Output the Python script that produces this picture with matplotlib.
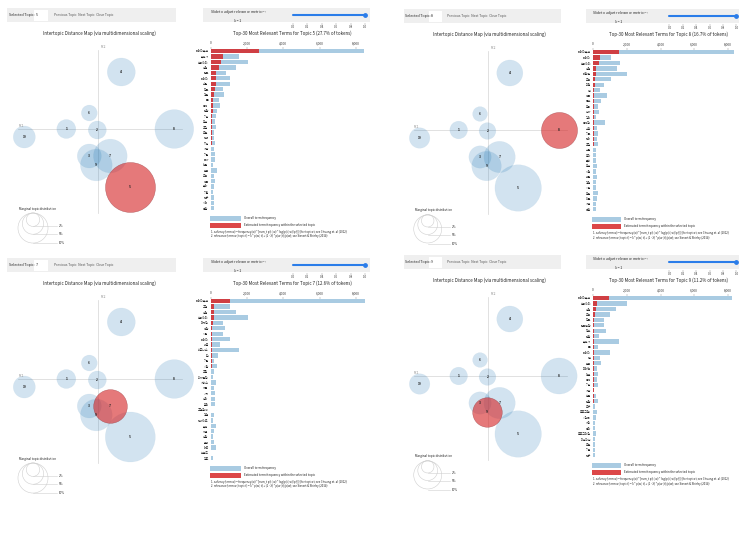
import numpy as np
import matplotlib.pyplot as plt
from matplotlib.patches import Rectangle

plt.rcParams['font.family'] = ['Noto Sans CJK KR', 'DejaVu Sans']

W, H = 739, 533

# topic map (PC1, PC2) and marginal topic size (% of tokens)
topic_ids = [1, 2, 3, 4, 5, 6, 7, 8, 9, 10]
topic_pc1 = [-0.32, -0.01, -0.09, 0.23, 0.32, -0.09, 0.12, 0.76, -0.02, -0.74]
topic_pc2 = [0.00, -0.01, -0.27, 0.57, -0.58, 0.16, -0.27, 0.00, -0.36, -0.08]
topic_pct = [4.0, 3.6, 6.4, 8.7, 27.7, 2.8, 12.6, 16.7, 11.2, 5.4]

# top-30 terms per selected topic
terms_5 = ['데이터분석', '분석가', '빅데이터', '능력', '업무', '데이터', '스킬', '직무', '경험', '툴',
           '통계', '역량', '기술', '학습', '코딩', '모델', '인재', '지식', '개발', '기업',
           '회사', '산업', '활용', '교육', '전공', '분야', '기획', '연구', '사례', '통찰']
overall_5 = [8440, 1580, 2070, 1390, 830, 1060, 1080, 700, 715, 440,
             515, 330, 290, 240, 275, 180, 180, 240, 180, 260,
             220, 130, 370, 180, 220, 165, 150, 180, 180, 165]
topic_5 = [2660, 700, 570, 460, 290, 275, 275, 240, 200, 150,
           130, 110, 90, 75, 75, 55, 55, 55, 40, 40,
           40, 20, 40, 20, 20, 20, 20, 20, 20, 20]

terms_8 = ['데이터분석', '데이터', '빅데이터', '능력', '대학원', '교육', '과정', '책', '전공', '공부',
           '학위', '석사', '강의', '통계학', '수학', '기초', '언어', '코딩', '수업', '학과',
           '준비', '학습', '자격', '취업', '경력', '시험', '학원', '이론', '개념', '독학']
overall_8 = [8350, 1070, 1590, 1400, 2040, 1070, 680, 430, 815, 505,
             310, 330, 175, 700, 235, 270, 235, 270, 195, 195,
             155, 235, 175, 235, 155, 195, 290, 250, 195, 175]
topic_8 = [1550, 430, 330, 195, 155, 135, 100, 80, 60, 60,
           40, 40, 35, 35, 35, 35, 35, 35, 30, 30,
           30, 30, 30, 30, 30, 30, 30, 30, 30, 30]

terms_7 = ['데이터분석', '고객', '능력', '빅데이터', '마케팅', '전략', '사업', '데이터', '매출', '비즈니스',
           '팀', '기업', '시장', '조직', '의사결정', '서비스', '제품', '가치', '성과', '관리',
           '고객관계', '경영', '인사이트', '분석', '채널', '성장', '판매', '예측', '브랜드', '광고']
overall_7 = [8500, 1060, 1390, 2070, 700, 810, 680, 1060, 500, 1580,
             420, 200, 330, 180, 110, 290, 180, 240, 240, 240,
             40, 180, 130, 290, 180, 150, 180, 310, 40, 130]
topic_7 = [1060, 200, 200, 180, 110, 90, 90, 90, 75, 75,
           55, 45, 45, 40, 40, 40, 40, 40, 40, 40,
           30, 35, 35, 35, 35, 35, 35, 35, 30, 30]

terms_9 = ['데이터분석', '빅데이터', '능력', '교육', '직무', '업무역량', '정보', '역할', '분석가', '툴',
           '데이터', '일', '활용', '파이썬', '엑셀', '통계', '기술', '개발', '방법', '역량',
           '도구', '프로그램', '시각화', '처리', '결과', '프로그래밍', '머신러닝', '모델', '기법', '연구']
overall_9 = [8210, 2010, 1360, 1030, 660, 680, 795, 350, 1530, 270,
             1030, 410, 485, 235, 310, 215, 290, 60, 195, 270,
             135, 235, 155, 135, 115, 195, 115, 100, 100, 100]
topic_9 = [970, 250, 175, 100, 80, 60, 55, 50, 50, 45,
           45, 40, 40, 40, 40, 35, 35, 35, 35, 35,
           30, 30, 30, 30, 30, 30, 30, 30, 30, 30]

freq_ticks = [0, 2000, 4000, 6000, 8000]
lambda_ticks = [0.0, 0.2, 0.4, 0.6, 0.8, 1.0]
legend_pct = [2, 5, 10]

panels = [
    dict(topic=5, terms=terms_5, overall=overall_5, freq=topic_5, ox=0.0, oy=0.0, kx=1.0),
    dict(topic=8, terms=terms_8, overall=overall_8, freq=topic_8, ox=397.0, oy=1.0, kx=0.93),
    dict(topic=7, terms=terms_7, overall=overall_7, freq=topic_7, ox=0.0, oy=250.0, kx=1.0),
    dict(topic=9, terms=terms_9, overall=overall_9, freq=topic_9, ox=397.0, oy=247.0, kx=0.93),
]

BLUE = '#1f77b4'
RED = '#d62728'
GRAY_BOX = '#efefef'

fig = plt.figure(figsize=(W / 100, H / 100), dpi=100)
ov = fig.add_axes([0, 0, 1, 1], zorder=0)
ov.set_xlim(0, W)
ov.set_ylim(H, 0)
ov.axis('off')


def px_axes(x0, y0, x1, y1, z=2):
    ax = fig.add_axes([x0 / W, 1 - y1 / H, (x1 - x0) / W, (y1 - y0) / H], zorder=z)
    ax.set_facecolor('none')
    return ax


def rad_pt(pct, k):
    # circle radius in px -> marker size in points^2
    r = 4.75 * np.sqrt(pct) * k
    return (2 * r * 0.72) ** 2


for p in panels:
    ox, oy, kx = p['ox'], p['oy'], p['kx']
    X = lambda x: ox + x * kx
    Y = lambda y: oy + y

    # control bars
    ov.add_patch(Rectangle((X(7), Y(8)), 169 * kx, 14, fc=GRAY_BOX, ec='none'))
    ov.text(X(9), Y(15), 'Selected Topic:', fontsize=2.6, va='center', color='#222')
    ov.add_patch(Rectangle((X(34), Y(9.5)), 14 * kx, 11, fc='white', ec='none'))
    ov.text(X(36), Y(15), str(p['topic']), fontsize=2.6, va='center', color='#222')
    ov.text(X(54), Y(15), 'Previous Topic  Next Topic  Clear Topic', fontsize=2.4,
            va='center', color='#555')
    ov.add_patch(Rectangle((X(203), Y(8)), min(X(370), W) - X(203), 14, fc=GRAY_BOX, ec='none'))
    ov.text(X(210), Y(13), r'Slide to adjust relevance metric:$^{(2)}$', fontsize=2.5,
            va='center', color='#222')
    ov.text(X(234), Y(20.5), 'λ = 1', fontsize=2.5, va='center', color='#222')

    sl = px_axes(X(293), Y(12), X(365), Y(22.5))
    sl.set_xlim(0, 1)
    sl.set_ylim(0, 1)
    sl.plot([0, 1], [0.75, 0.75], color='#2b7de9', lw=1.5, solid_capstyle='round', clip_on=False)
    sl.scatter([1], [0.75], s=6, color='#2b7de9', zorder=3, clip_on=False)
    sl.set_xticks(lambda_ticks)
    sl.set_xticklabels(['%.1f' % t for t in lambda_ticks])
    sl.tick_params(axis='x', length=1.2, width=0.3, color='#888', labelsize=2.2, pad=0.8,
                   labelcolor='#333')
    sl.set_yticks([])
    for s in sl.spines.values():
        s.set_visible(False)

    # titles
    ov.text(X(99), Y(33), 'Intertopic Distance Map (via multidimensional scaling)',
            fontsize=3.2, ha='center', va='center', color='#222')
    pct = topic_pct[topic_ids.index(p['topic'])]
    ov.text(X(292), Y(33), 'Top-30 Most Relevant Terms for Topic %d (%.1f%% of tokens)'
            % (p['topic'], pct), fontsize=3.2, ha='center', va='center', color='#222')

    # intertopic distance map
    ax = px_axes(X(8), Y(45), X(188), Y(218), z=3)
    ax.set_xlim((8 - 98.3) / 100, (188 - 98.3) / 100)
    ax.set_ylim((129 - 218) / 100, (129 - 45) / 100)
    ax.axis('off')
    ax.plot([-0.80, 0.84], [0, 0], color='#d4d4d4', lw=0.5, zorder=1)
    ax.plot([0, 0], [-0.84, 0.79], color='#d4d4d4', lw=0.5, zorder=1)
    ax.text(-0.80, 0.012, 'PC1', fontsize=2.2, color='#888', va='bottom')
    ax.text(0.02, 0.80, 'PC2', fontsize=2.2, color='#888', va='bottom')

    sizes = [rad_pt(v, kx) for v in topic_pct]
    blue = [i for i, t in enumerate(topic_ids) if t != p['topic']]
    sel = topic_ids.index(p['topic'])
    ax.scatter([topic_pc1[i] for i in blue], [topic_pc2[i] for i in blue],
               s=[sizes[i] for i in blue], facecolors=BLUE, alpha=0.2, edgecolors='#9fbfdc',
               linewidths=0.3, zorder=2, clip_on=False)
    ax.scatter([topic_pc1[sel]], [topic_pc2[sel]], s=[sizes[sel]], facecolors=RED, alpha=0.62,
               edgecolors='#8a2a30', linewidths=0.3, zorder=3, clip_on=False)
    for i, t in enumerate(topic_ids):
        ax.text(topic_pc1[i], topic_pc2[i], str(t), fontsize=2.4, fontweight='bold',
                ha='center', va='center', color='#222', zorder=4)

    # marginal topic distribution legend
    ov.text(X(19), Y(209), 'Marginal topic distribution', fontsize=2.2, va='center', color='#222')
    for lp in legend_pct:
        r = 4.75 * np.sqrt(lp)
        ov.scatter([X(33)], [Y(213 + r)], s=rad_pt(lp, kx), facecolors='none',
                   edgecolors='#cfcfcf', linewidths=0.4)
        ov.plot([X(33), X(57)], [Y(213 + 2 * r)] * 2, color='#cfcfcf', lw=0.4)
        ov.text(X(59), Y(213 + 2 * r), '%d%%' % lp, fontsize=2.2, va='center', color='#333')

    # bar chart of term frequencies
    bx = px_axes(X(210.7), Y(48.5), X(210.7 + 8500 * 145.3 / 8000), Y(211))
    yy = np.arange(len(p['terms']))
    bx.barh(yy, p['overall'], height=0.8, color=BLUE, alpha=0.38, lw=0)
    bx.barh(yy, p['freq'], height=0.8, color=RED, alpha=0.85, lw=0)
    bx.set_xlim(0, 8500)
    bx.set_ylim(len(yy) - 0.5, -0.5)
    bx.xaxis.tick_top()
    bx.set_xticks(freq_ticks)
    bx.set_xticklabels(['{:,}'.format(t) for t in freq_ticks])
    bx.tick_params(axis='x', length=1.2, width=0.3, color='#888', labelsize=2.3, pad=1.2,
                   labelcolor='#333')
    bx.set_yticks(yy)
    bx.set_yticklabels(p['terms'])
    bx.tick_params(axis='y', length=0, labelsize=2.1, pad=1.5, labelcolor='#222')
    for s in bx.spines.values():
        s.set_visible(False)

    # bar legend and footnotes
    ov.add_patch(Rectangle((X(210), Y(216)), 31 * kx, 4.5, fc=BLUE, alpha=0.38, ec='none'))
    ov.text(X(244), Y(218.3), 'Overall term frequency', fontsize=2.2, va='center', color='#222')
    ov.add_patch(Rectangle((X(210), Y(223)), 31 * kx, 4.5, fc=RED, alpha=0.85, ec='none'))
    ov.text(X(244), Y(225.3), 'Estimated term frequency within the selected topic',
            fontsize=2.2, va='center', color='#222')
    ov.text(X(211), Y(232), '1. saliency(term w) = frequency(w) * [sum_t p(t | w) * log(p(t | w)/p(t))]'
            ' for topics t; see Chuang et. al (2012)', fontsize=2.0, va='center', color='#222')
    ov.text(X(211), Y(236.5), '2. relevance(term w | topic t) = λ * p(w | t) + (1 - λ) * p(w | t)/p(w);'
            ' see Sievert & Shirley (2014)', fontsize=2.0, va='center', color='#222')

fig.savefig('out.png', dpi=100, facecolor='white')
